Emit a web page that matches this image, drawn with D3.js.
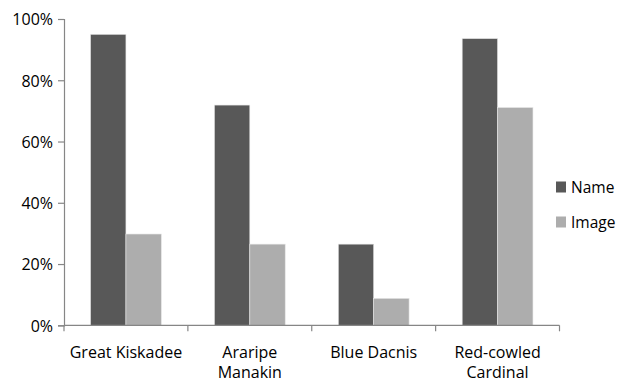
<!DOCTYPE html>
<html><head><meta charset="utf-8">
<script src="https://cdn.jsdelivr.net/npm/d3@7"></script>
<style>body{margin:0;background:#fff}svg{display:block}text{font-family:"Open Sans",sans-serif;fill:#000}</style>
</head><body>
<svg id="chart" width="621" height="383"></svg>
<script>
const categories = [["Great Kiskadee"], ["Araripe", "Manakin"], ["Blue Dacnis"], ["Red-cowled", "Cardinal"]];
const seriesNames = ["Name", "Image"];
const nameValues = [0.95, 0.719, 0.265, 0.936];
const imageValues = [0.298, 0.265, 0.088, 0.711];
const yTicks = [0, 0.2, 0.4, 0.6, 0.8, 1.0];
const colors = ["#585858", "#adadad"];

const svg = d3.select("#chart");
const mLeft = 64, mRight = 559.5, mTop = 19, mBottom = 325.3;
const x = d3.scaleBand().domain(d3.range(categories.length)).range([mLeft, mRight]);
const xs = d3.scaleBand().domain(seriesNames).range([0, x.bandwidth()]).paddingInner(0).paddingOuter(0.75);
const y = d3.scaleLinear().domain([0, 1]).range([mBottom, mTop]);

const data = categories.map((c, i) => ({i, vals: [nameValues[i], imageValues[i]]}));
const g = svg.append("g");
data.forEach(d => {
  d.vals.forEach((v, k) => {
    g.append("rect")
      .attr("x", x(d.i) + xs(seriesNames[k]))
      .attr("y", y(v))
      .attr("width", xs.bandwidth())
      .attr("height", y(0) - y(v))
      .attr("fill", colors[k])
      .attr("stroke", "#e6e6e6").attr("stroke-width", 0.6);
  });
});

// y axis
const ya = svg.append("g").attr("transform", `translate(${mLeft},0)`)
  .call(d3.axisLeft(y).tickValues(yTicks).tickFormat(d3.format(".0%")).tickSize(6).tickPadding(5));
ya.attr("font-family", null);
ya.select(".domain").attr("stroke", "#868686").attr("stroke-width", 1.2);
ya.selectAll(".tick line").attr("stroke", "#868686").attr("stroke-width", 1.2);
ya.selectAll(".tick text").style("font-size", "16px").attr("fill", "#000").attr("dy", "0.36em");

// x axis
const xa = svg.append("g").attr("transform", `translate(0,${mBottom})`);
xa.append("line").attr("x1", mLeft).attr("x2", mRight).attr("y1", 0).attr("y2", 0)
  .attr("stroke", "#868686").attr("stroke-width", 1.2);
const bounds = d3.range(categories.length + 1).map(i => i < categories.length ? x(i) : x(i - 1) + x.bandwidth());
bounds.forEach(b => xa.append("line").attr("x1", b).attr("x2", b).attr("y1", 0).attr("y2", 6)
  .attr("stroke", "#868686").attr("stroke-width", 1.2));
categories.forEach((lines, i) => {
  const t = xa.append("text").attr("text-anchor", "middle").style("font-size", "16px")
    .attr("x", x(i) + x.bandwidth() / 2).attr("y", 32.5);
  lines.forEach((ln, j) => t.append("tspan").attr("x", x(i) + x.bandwidth() / 2).attr("dy", j === 0 ? 0 : 20.5).text(ln));
});

// legend
const leg = svg.append("g");
seriesNames.forEach((s, k) => {
  const cy = 187 + k * 35;
  leg.append("rect").attr("x", 556).attr("y", cy - 5.5).attr("width", 10).attr("height", 11).attr("fill", colors[k]);
  leg.append("text").attr("x", 571).attr("y", cy).attr("dy", "0.36em").style("font-size", "15.5px").text(s);
});
</script>
</body></html>
